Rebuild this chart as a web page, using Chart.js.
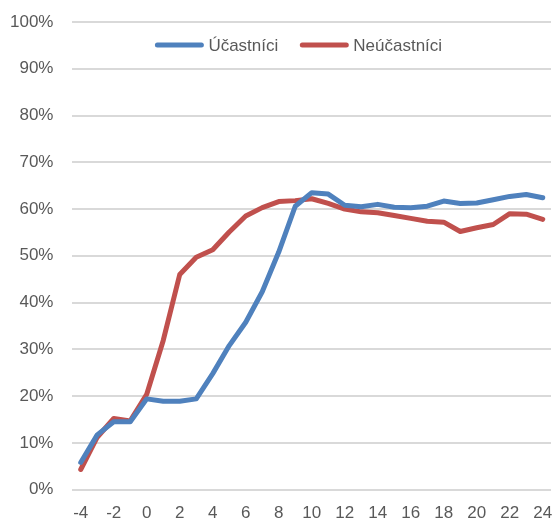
<!DOCTYPE html>
<html>
<head>
<meta charset="utf-8">
<script src="https://cdn.jsdelivr.net/npm/chart.js@4"></script>
<style>
html,body{margin:0;padding:0;background:#fff;}
#wrap{width:553px;height:525px;position:relative;}
</style>
</head>
<body>
<div id="wrap"><canvas id="c"></canvas></div>
<script>
const categories = [-4,-3,-2,-1,0,1,2,3,4,5,6,7,8,9,10,11,12,13,14,15,16,17,18,19,20,21,22,23,24];
const ucastnici = [5.8,11.7,14.5,14.5,19.4,18.9,18.9,19.4,24.8,30.8,35.8,42.3,50.8,60.6,63.5,63.2,60.8,60.5,61.0,60.4,60.3,60.6,61.7,61.2,61.3,62.0,62.7,63.1,62.4];
const neucastnici = [4.3,11.2,15.2,14.7,20.4,31.9,46.0,49.7,51.3,55.1,58.5,60.3,61.6,61.8,62.2,61.2,60.0,59.4,59.2,58.6,58.0,57.4,57.2,55.2,56.0,56.7,59.0,58.9,57.8];
const seriesNames = ['Účastníci','Neúčastníci'];
const colors = ['#4F81BD','#C0504D'];

const FONT = "'Liberation Sans', Arial, sans-serif";
const TXT = '#595959';

const legendPlugin = {
  id: 'inlineLegend',
  afterDatasetsDraw(chart) {
    const ctx = chart.ctx, a = chart.chartArea;
    ctx.save();
    ctx.font = '17px ' + FONT;
    ctx.textBaseline = 'middle';
    const sw = 48, gapT = 5, gapItem = 22;
    const items = chart.data.datasets.map(d => ({label: d.label, color: d.borderColor, w: ctx.measureText(d.label).width}));
    let total = items.reduce((s, it) => s + sw + gapT + it.w, 0) + gapItem * (items.length - 1);
    let x = (a.left + a.right) / 2 - total / 2 - 13;
    const y = a.top + 23;
    items.forEach(it => {
      ctx.strokeStyle = it.color; ctx.lineWidth = 5; ctx.lineCap = 'round';
      ctx.beginPath(); ctx.moveTo(x + 2, y); ctx.lineTo(x + sw - 2, y); ctx.stroke();
      ctx.fillStyle = TXT;
      ctx.fillText(it.label, x + sw + gapT, y + 1);
      x += sw + gapT + it.w + gapItem;
    });
    ctx.restore();
  }
};

const zeroPad = (s) => { s.paddingTop = 0; s.paddingBottom = 0; s.paddingLeft = 0; s.paddingRight = 0; };

new Chart(document.getElementById('c'), {
  type: 'line',
  data: {
    labels: categories.map(String),
    datasets: [
      {label: seriesNames[0], data: ucastnici, borderColor: colors[0], backgroundColor: colors[0], borderWidth: 5, pointRadius: 0, tension: 0, borderCapStyle: 'round', borderJoinStyle: 'round'},
      {label: seriesNames[1], data: neucastnici, borderColor: colors[1], backgroundColor: colors[1], borderWidth: 5, pointRadius: 0, tension: 0, borderCapStyle: 'round', borderJoinStyle: 'round'}
    ]
  },
  plugins: [legendPlugin],
  options: {
    responsive: true,
    maintainAspectRatio: false,
    animation: false,
    layout: {padding: {left: -9, right: 2, top: 22, bottom: -13}},
    plugins: {
      tooltip: {enabled: false},
      legend: {display: false}
    },
    scales: {
      x: {
        type: 'category',
        offset: true,
        afterFit: zeroPad,
        grid: {display: false, drawTicks: false},
        border: {display: false},
        ticks: {
          autoSkip: false, maxRotation: 0, padding: 14,
          color: TXT, font: {family: FONT, size: 17},
          callback: function(v, i) { const c = categories[i]; return c % 2 === 0 ? String(c) : ''; }
        }
      },
      y: {
        min: 0, max: 100,
        afterFit: zeroPad,
        grid: {color: '#d9d9d9', lineWidth: 2, drawTicks: false},
        border: {display: false},
        ticks: {
          stepSize: 10, padding: 19,
          color: TXT, font: {family: FONT, size: 17},
          callback: v => v + '%'
        }
      }
    }
  }
});
</script>
</body>
</html>
